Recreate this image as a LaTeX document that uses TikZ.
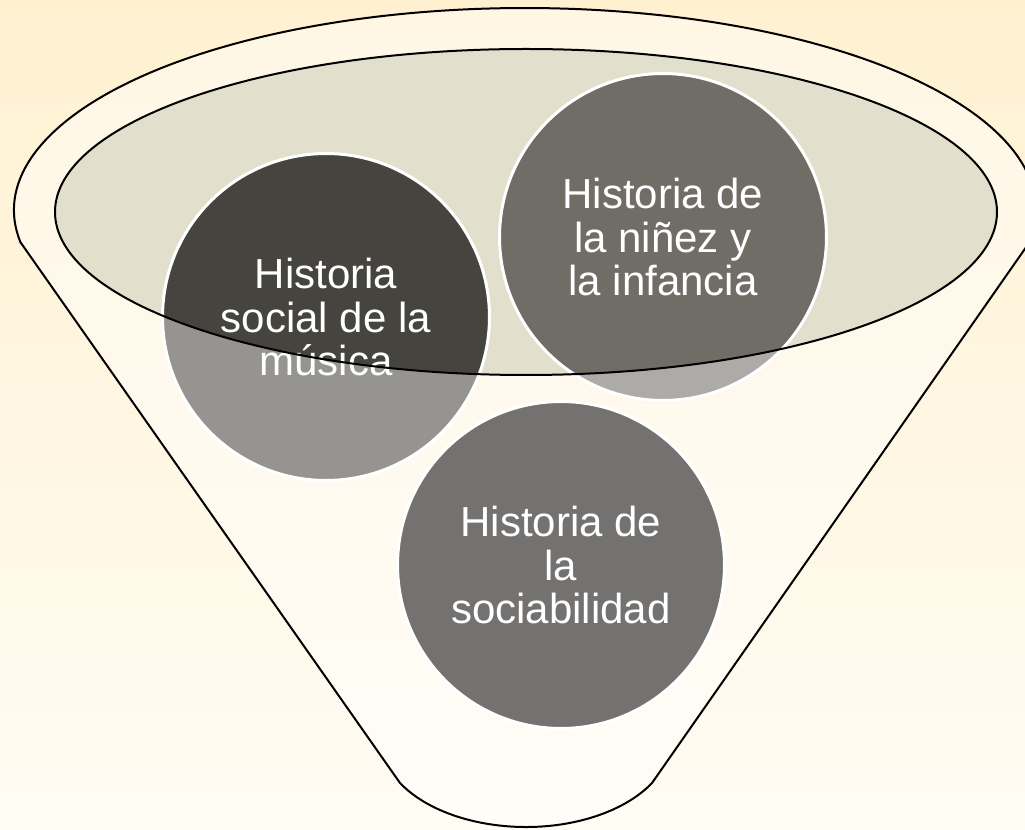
\documentclass[tikz,border=0pt]{standalone}
\usepackage{fontspec}
\setmainfont{Liberation Sans}
\usepackage{tikz}
\usepackage{xcolor}
\usetikzlibrary{positioning}

\definecolor{bgtop}{HTML}{FFF1D0}
\definecolor{bgbot}{HTML}{FFFCF4}
\definecolor{funnelin}{HTML}{E3DFCD}
\definecolor{musica}{HTML}{45443F}
\definecolor{ninez}{HTML}{6F6D66}
\definecolor{socia}{HTML}{737270}

\begin{document}
\begin{tikzpicture}[
  x=0.02cm, y=0.02cm,
  topic/.style={circle, draw=white, line width=0.06cm, fill=#1,
    minimum size=6.54cm, inner sep=0pt, align=center, text=white,
    font=\fontsize{23.9}{24.6}\selectfont},
  rim/.style={draw=black, line width=0.04cm}
]
\useasboundingbox (0,0) rectangle (1025,829);

% ---- BACKGROUND ----
\fill[top color=bgtop, bottom color=bgbot] (0,0) rectangle (1025,829);

% ---- INSIDE OF THE FUNNEL ----
\fill[funnelin] (526,617) ellipse [x radius=471, y radius=163];

% ---- TOPICS in the mouth ----
\node[topic=musica] (musica) at (326,512) {Historia\\social de la\\música};
\node[topic=ninez] (ninez) at (663,592) {Historia de\\la niñez y\\la infancia};

% ---- FUNNEL BODY (rim, sides, spout) ----
\draw[rim, fill=white, fill opacity=0.43, even odd rule]
  (21,586) -- (400,46)
  arc[start angle=210, end angle=330, x radius=145.5, y radius=88]
  -- (1029,586)
  arc[start angle=-9.4, end angle=189.4, x radius=511, y radius=202]
  -- cycle
  (526,617) ellipse [x radius=471, y radius=163];

% ---- TOPIC in the spout ----
\node[topic=socia] (socia) at (561,264) {Historia de\\la\\sociabilidad};

\end{tikzpicture}
\end{document}
